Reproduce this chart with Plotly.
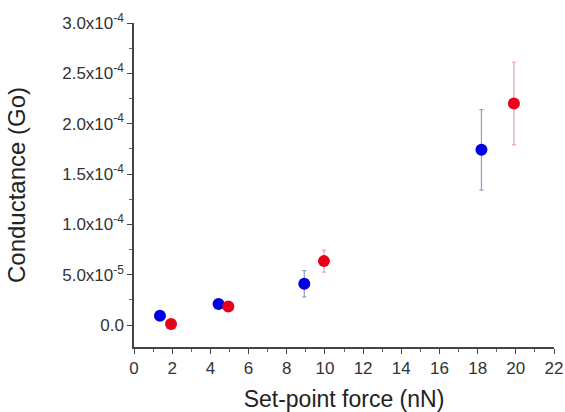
import plotly.graph_objects as go

blue_x = [1.36, 4.43, 8.92, 18.2]
blue_y = [0.092e-4, 0.21e-4, 0.41e-4, 1.74e-4]
blue_err = [0.0, 0.0, 0.13e-4, 0.40e-4]

red_x = [1.94, 4.94, 9.95, 19.9]
red_y = [0.01e-4, 0.185e-4, 0.635e-4, 2.2e-4]
red_err = [0.0, 0.0, 0.11e-4, 0.41e-4]

ytick_vals = [0, 0.5e-4, 1.0e-4, 1.5e-4, 2.0e-4, 2.5e-4, 3.0e-4]
ytick_text = ["0.0", "5.0x10<sup>-5</sup>", "1.0x10<sup>-4</sup>", "1.5x10<sup>-4</sup>",
              "2.0x10<sup>-4</sup>", "2.5x10<sup>-4</sup>", "3.0x10<sup>-4</sup>"]
xtick_vals = list(range(0, 23, 2))

fig = go.Figure()
fig.add_trace(go.Scatter(
    x=blue_x, y=blue_y, mode="markers",
    marker=dict(color="#0000e0", size=12),
    error_y=dict(type="data", array=blue_err, visible=True, color="#9a9ac0", thickness=1.2, width=2),
    showlegend=False))
fig.add_trace(go.Scatter(
    x=red_x, y=red_y, mode="markers",
    marker=dict(color="#e8001a", size=12),
    error_y=dict(type="data", array=red_err, visible=True, color="#f0a0a8", thickness=1.2, width=2),
    showlegend=False))

fig.update_layout(
    width=565, height=412,
    margin=dict(l=134, r=11, t=23, b=65),
    paper_bgcolor="white", plot_bgcolor="white",
    font=dict(family="Liberation Sans, Arial, sans-serif", color="#333333"),
    xaxis=dict(
        range=[0, 22], tickvals=xtick_vals, showgrid=False, zeroline=False,
        showline=True, linecolor="#444444", linewidth=1.5, automargin=False,
        ticks="outside", ticklen=5, tickcolor="#444444",
        minor=dict(ticks="outside", dtick=1, ticklen=3, tickcolor="#666666"),
        tickfont=dict(size=17, color="#333333"),
        title=dict(text="Set-point force (nN)", font=dict(size=23, color="#222222"), standoff=18),
    ),
    yaxis=dict(
        range=[-0.218e-4, 3.0e-4], tickvals=ytick_vals, ticktext=ytick_text,
        showgrid=False, zeroline=False, automargin=False,
        showline=True, linecolor="#444444", linewidth=1.5,
        ticks="outside", ticklen=5, tickcolor="#444444",
        minor=dict(ticks="outside", dtick=0.25e-4, tick0=0, ticklen=3, tickcolor="#666666"),
        tickfont=dict(size=17, color="#333333"),
        title=dict(text="Conductance (Go)", font=dict(size=24, color="#222222"), standoff=30),
    ),
)

fig.write_html("out.html")
